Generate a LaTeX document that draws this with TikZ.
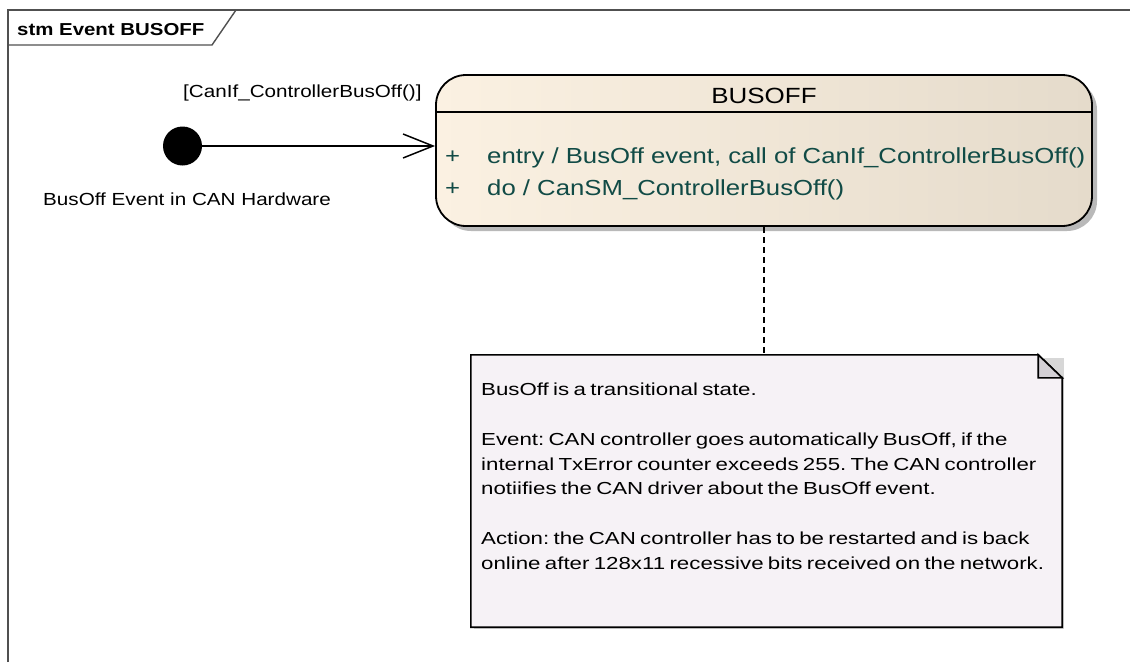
\documentclass[tikz,border=0pt]{standalone}
\usepackage{fontspec}
\setmainfont[FakeStretch=1.18]{Liberation Sans}
\newfontfamily\notefont[FakeStretch=1.28,WordSpace=0.7]{Liberation Sans}
\usetikzlibrary{arrows.meta}
\frenchspacing
\definecolor{frameline}{RGB}{80,80,80}
\definecolor{stateL}{RGB}{251,241,226}
\definecolor{stateR}{RGB}{229,219,203}
\definecolor{actcol}{RGB}{17,75,70}
\definecolor{notefill}{RGB}{246,242,246}
\definecolor{foldfill}{RGB}{211,208,213}
\definecolor{shadowcol}{RGB}{185,185,185}
\definecolor{noteshadow}{RGB}{215,215,215}
\tikzset{
  frame/.style={draw=frameline, line width=1.4pt},
  statebox/.style={draw=black, line width=1.8pt, rounded corners=30pt,
    left color=stateL, right color=stateR, minimum width=656pt, minimum height=151pt, inner sep=0pt},
  acttext/.style={text=actcol, font=\fontsize{21.8}{26}\selectfont, anchor=base west, inner sep=0pt},
  lbl/.style={font=\fontsize{17.5}{20}\selectfont, anchor=base west, inner sep=0pt},
  notetext/.style={font=\notefont\fontsize{17.4}{20}\selectfont\frenchspacing, anchor=base west, inner sep=0pt},
  transition/.style={line width=1.5pt, -{Straight Barb[length=30pt,width=24pt,line width=1.5pt]}},
  anchorline/.style={line width=1.8pt, dash pattern=on 6pt off 4pt}
}
\begin{document}
\begin{tikzpicture}[x=1pt,y=-1pt]
\useasboundingbox (0,0) rectangle (1130,662);
% frame
\draw[frame] (8,662) -- (8,10) -- (1130,10);
\draw[frame] (8,45) -- (212,45) -- (236,10);
\node[anchor=base west, inner sep=0pt, font=\bfseries\fontsize{17.3}{20}\selectfont] (title) at (17,35) {stm Event BUSOFF};
% state
\fill[shadowcol, rounded corners=30pt] (441,80) rectangle (1097,231);
\node[statebox] (busoff) at (764,150.5) {};
\draw[line width=1.4pt] (busoff.west |- 0,112) -- (busoff.east |- 0,112);
\node[anchor=base, inner sep=0pt, font=\fontsize{22}{26}\selectfont] (stname) at (764,103) {BUSOFF};
\node[acttext] (plus1) at (445,163) {+};
\node[acttext] (act1) at (487,163) {entry / BusOff event, call of CanIf\_ControllerBusOff()};
\node[acttext] (plus2) at (445,195) {+};
\node[acttext] (act2) at (487,195) {do / CanSM\_ControllerBusOff()};
% initial
\node[circle, fill=black, minimum size=39pt, inner sep=0pt] (init) at (182.5,146) {};
\draw[transition] (init) -- (init -| busoff.west);
\node[lbl] (guard) at (183,97) {[CanIf\_ControllerBusOff()]};
\node[lbl] (evt) at (43,205) {BusOff Event in CAN Hardware};
% note
\node[inner sep=0pt, minimum width=591pt, minimum height=272pt] (note) at (766.5,491) {};
\fill[noteshadow] (474,358) rectangle (1064,629);
\draw[line width=1.6pt, fill=notefill] (note.north west) -- ([xshift=-24pt]note.north east) -- ([yshift=-23pt]note.north east) -- (note.south east) -- (note.south west) -- cycle;
\draw[line width=1.6pt, fill=foldfill] ([xshift=-24pt]note.north east) -- ([xshift=-24pt,yshift=-23pt]note.north east) -- ([yshift=-23pt]note.north east) -- cycle;
\node[notetext] (n1) at (481,395.5) {BusOff is a transitional state.};
\node[notetext] (n2) at (481,445.5) {Event: CAN controller goes automatically BusOff, if the};
\node[notetext] (n3) at (481,470) {internal TxError counter exceeds 255. The CAN controller};
\node[notetext] (n4) at (481,494.5) {notiifies the CAN driver about the BusOff event.};
\node[notetext] (n5) at (481,544.5) {Action: the CAN controller has to be restarted and is back};
\node[notetext] (n6) at (481,569) {online after 128x11 recessive bits received on the network.};
% anchor
\draw[anchorline] (busoff.south) -- (busoff.south |- note.north);
\end{tikzpicture}
\end{document}
